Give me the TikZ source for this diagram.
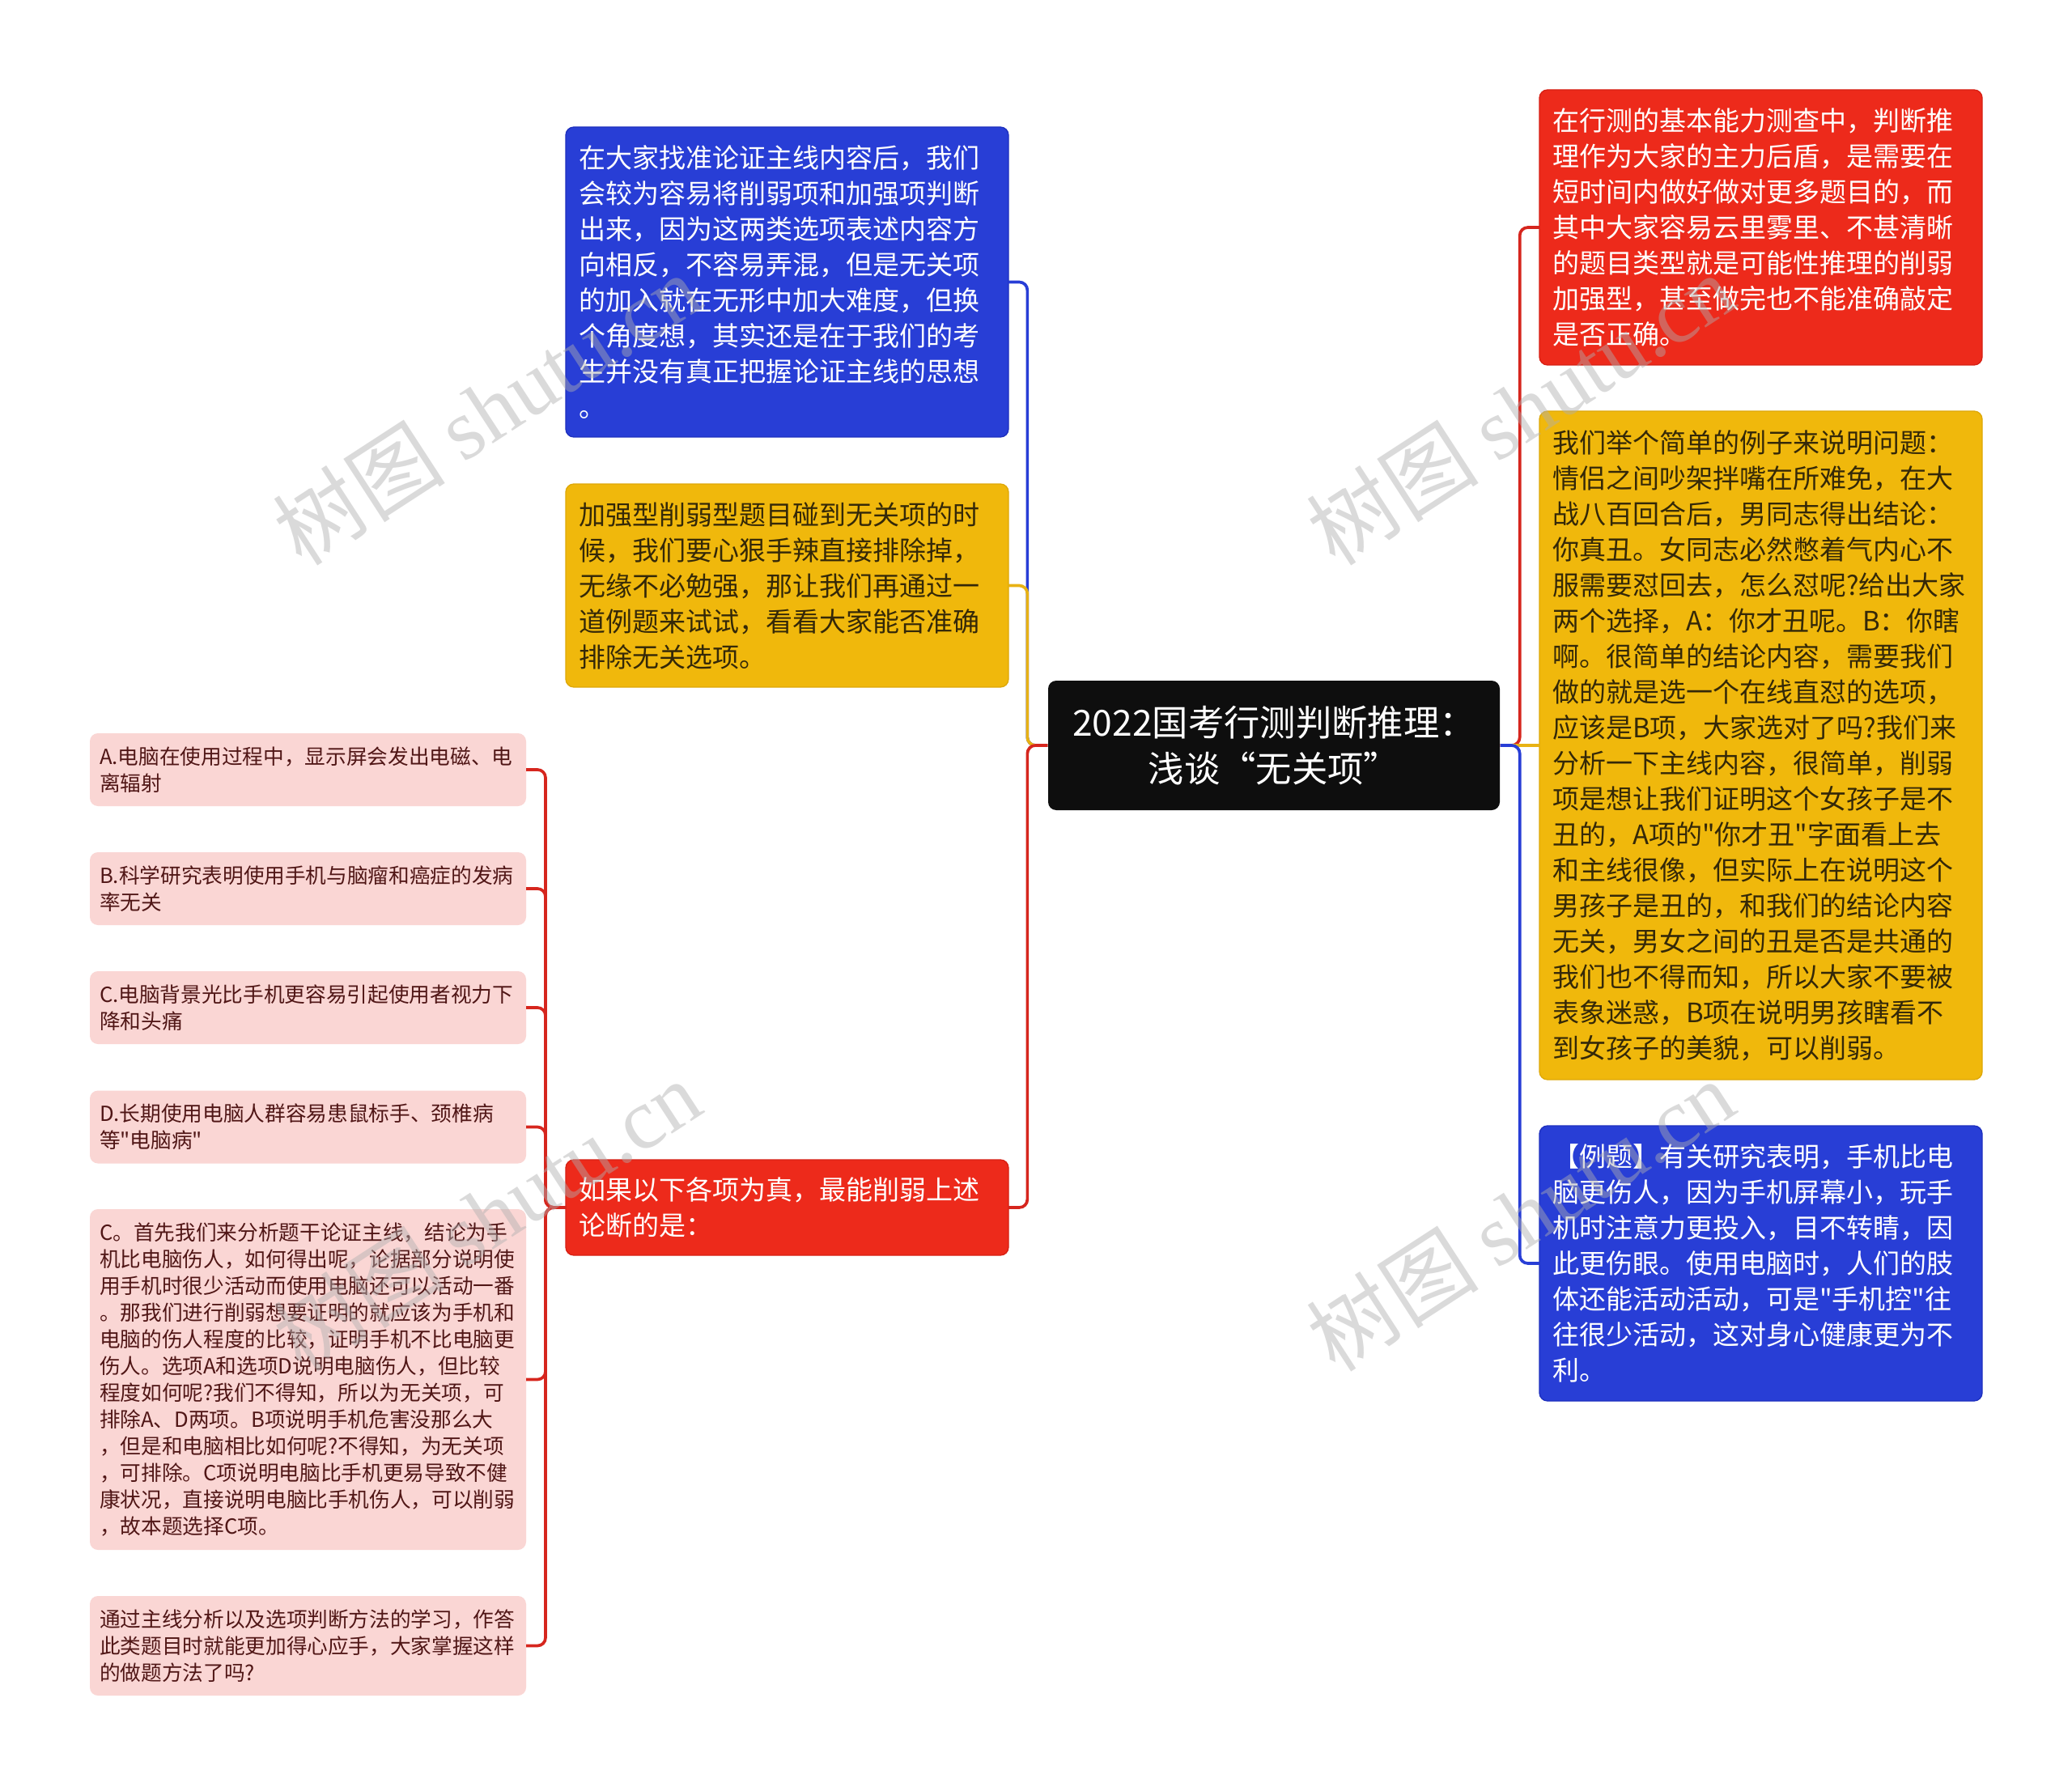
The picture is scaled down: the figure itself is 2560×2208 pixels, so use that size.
\documentclass[tikz,border=0pt]{standalone}
\usepackage{fontspec}
\newfontfamily\cjkfont{Noto Sans CJK SC}
\newfontfamily\wmserif{Liberation Serif}
\definecolor{cBlue}{RGB}{40,62,214}
\definecolor{cBlueD}{RGB}{30,48,190}
\definecolor{cYellow}{RGB}{240,184,12}
\definecolor{cYellowD}{RGB}{222,168,8}
\definecolor{cRed}{RGB}{237,42,27}
\definecolor{cRedD}{RGB}{215,32,20}
\definecolor{cPink}{RGB}{250,214,212}
\definecolor{cRoot}{RGB}{14,14,14}
\definecolor{cPinkText}{RGB}{80,22,22}
\definecolor{cYText}{RGB}{52,40,8}
\definecolor{cLineRed}{RGB}{214,38,30}
\definecolor{cLineYel}{RGB}{232,178,20}
\definecolor{cWM}{RGB}{175,175,175}
\tikzset{
  box/.style={rounded corners=3pt, align=left, inner ysep=0pt, outer sep=0pt},
  bigbox/.style={box, font=\cjkfont\fontsize{9.9pt}{13.2pt}\selectfont, text width=154.5pt, inner xsep=4.8pt, minimum width=164.1pt},
  smallbox/.style={box, font=\cjkfont\fontsize{7.7pt}{9.9pt}\selectfont, text width=154.5pt, inner xsep=3.6pt, minimum width=161.7pt, fill=cPink, text=cPinkText},
  bluebox/.style={bigbox, fill=cBlue, draw=cBlueD, line width=0.4pt, text=white},
  yelbox/.style={bigbox, fill=cYellow, draw=cYellowD, line width=0.4pt, text=cYText},
  redbox/.style={bigbox, fill=cRed, draw=cRedD, line width=0.4pt, text=white},
  rootbox/.style={rounded corners=3pt, fill=cRoot, text=white, align=center, font=\cjkfont\fontsize{13.3pt}{17.1pt}\selectfont, minimum width=167.4pt, minimum height=48pt, inner sep=0pt},
  conn/.style={line width=1.1pt, rounded corners=3pt},
  wm/.style={text=cWM, text opacity=0.45, rotate=33, anchor=base west, inner sep=0pt, font=\cjkfont\fontsize{32pt}{32pt}\selectfont},
}
\begin{document}
\begin{tikzpicture}[x=0.3pt, y=-0.3pt]
\useasboundingbox[fill=white] (0,0) rectangle (2560,2208);

% root
\node[rootbox] (root) at (1574,921) {2022国考行测判断推理：\\浅谈“无关项”};

% left main branches
\node[bluebox, minimum height=114.9pt] (bl) at (972.5,348.5) {在大家找准论证主线内容后，我们\\会较为容易将削弱项和加强项判断\\出来，因为这两类选项表述内容方\\向相反，不容易弄混，但是无关项\\的加入就在无形中加大难度，但换\\个角度想，其实还是在于我们的考\\生并没有真正把握论证主线的思想\\。};
\node[yelbox, minimum height=75.3pt] (yl) at (972.5,723.5) {加强型削弱型题目碰到无关项的时\\候，我们要心狠手辣直接排除掉，\\无缘不必勉强，那让我们再通过一\\道例题来试试，看看大家能否准确\\排除无关选项。};
\node[redbox, minimum height=35.4pt] (rl) at (972.5,1492) {如果以下各项为真，最能削弱上述\\论断的是：};

% right main branches
\node[redbox, minimum height=102pt] (rr) at (2175.5,281) {在行测的基本能力测查中，判断推\\理作为大家的主力后盾，是需要在\\短时间内做好做对更多题目的，而\\其中大家容易云里雾里、不甚清晰\\的题目类型就是可能性推理的削弱\\加强型，甚至做完也不能准确敲定\\是否正确。};
\node[yelbox, minimum height=247.8pt] (yr) at (2175.5,921) {我们举个简单的例子来说明问题：\\情侣之间吵架拌嘴在所难免，在大\\战八百回合后，男同志得出结论：\\你真丑。女同志必然憋着气内心不\\服需要怼回去，怎么怼呢?给出大家\\两个选择，A：你才丑呢。B：你瞎\\啊。很简单的结论内容，需要我们\\做的就是选一个在线直怼的选项，\\应该是B项，大家选对了吗?我们来\\分析一下主线内容，很简单，削弱\\项是想让我们证明这个女孩子是不\\丑的，A项的"你才丑"字面看上去\\和主线很像，但实际上在说明这个\\男孩子是丑的，和我们的结论内容\\无关，男女之间的丑是否是共通的\\我们也不得而知，所以大家不要被\\表象迷惑，B项在说明男孩瞎看不\\到女孩子的美貌，可以削弱。};
\node[bluebox, minimum height=102pt] (br) at (2175.5,1561) {【例题】有关研究表明，手机比电\\脑更伤人，因为手机屏幕小，玩手\\机时注意力更投入，目不转睛，因\\此更伤眼。使用电脑时，人们的肢\\体还能活动活动，可是"手机控"往\\往很少活动，这对身心健康更为不\\利。};

% pink leaves
\node[smallbox, minimum height=27pt] (pA) at (380.5,951) {A.电脑在使用过程中，显示屏会发出电磁、电\\离辐射};
\node[smallbox, minimum height=27pt] (pB) at (380.5,1098) {B.科学研究表明使用手机与脑瘤和癌症的发病\\率无关};
\node[smallbox, minimum height=27pt] (pC) at (380.5,1245) {C.电脑背景光比手机更容易引起使用者视力下\\降和头痛};
\node[smallbox, minimum height=27pt] (pD) at (380.5,1392.5) {D.长期使用电脑人群容易患鼠标手、颈椎病\\等"电脑病"};
\node[smallbox, minimum height=126.3pt] (pE) at (380.5,1704.5) {C。首先我们来分析题干论证主线，结论为手\\机比电脑伤人，如何得出呢，论据部分说明使\\用手机时很少活动而使用电脑还可以活动一番\\。那我们进行削弱想要证明的就应该为手机和\\电脑的伤人程度的比较，证明手机不比电脑更\\伤人。选项A和选项D说明电脑伤人，但比较\\程度如何呢?我们不得知，所以为无关项，可\\排除A、D两项。B项说明手机危害没那么大\\，但是和电脑相比如何呢?不得知，为无关项\\，可排除。C项说明电脑比手机更易导致不健\\康状况，直接说明电脑比手机伤人，可以削弱\\，故本题选择C项。};
\node[smallbox, minimum height=36.9pt] (pF) at (380.5,2033.5) {通过主线分析以及选项判断方法的学习，作答\\此类题目时就能更加得心应手，大家掌握这样\\的做题方法了吗?};

% connectors: root -> left
\draw[conn, cBlue] (root.west) -- ++(-25,0) |- (bl.east);
\draw[conn, cLineYel] (root.west) -- ++(-25,0) |- (yl.east);
\draw[conn, cLineRed] (root.west) -- ++(-25,0) |- (rl.east);
% root -> right
\draw[conn, cLineRed] (root.east) -- ++(24,0) |- (rr.west);
\draw[conn, cLineYel] (root.east) -- (yr.west);
\draw[conn, cBlue] (root.east) -- ++(24,0) |- (br.west);
% question -> options
\foreach \n in {pA,pB,pC,pD,pE,pF}
  \draw[conn, cLineRed] (rl.west) -- ++(-25,0) |- (\n.east);

% watermarks
\node[wm] (wm1) at (373,702) {树图 {\wmserif shutu.cn}};
\node[wm] (wm2) at (1650,702) {树图 {\wmserif shutu.cn}};
\node[wm] (wm3) at (373,1698) {树图 {\wmserif shutu.cn}};
\node[wm] (wm4) at (1650,1698) {树图 {\wmserif shutu.cn}};
\end{tikzpicture}
\end{document}
